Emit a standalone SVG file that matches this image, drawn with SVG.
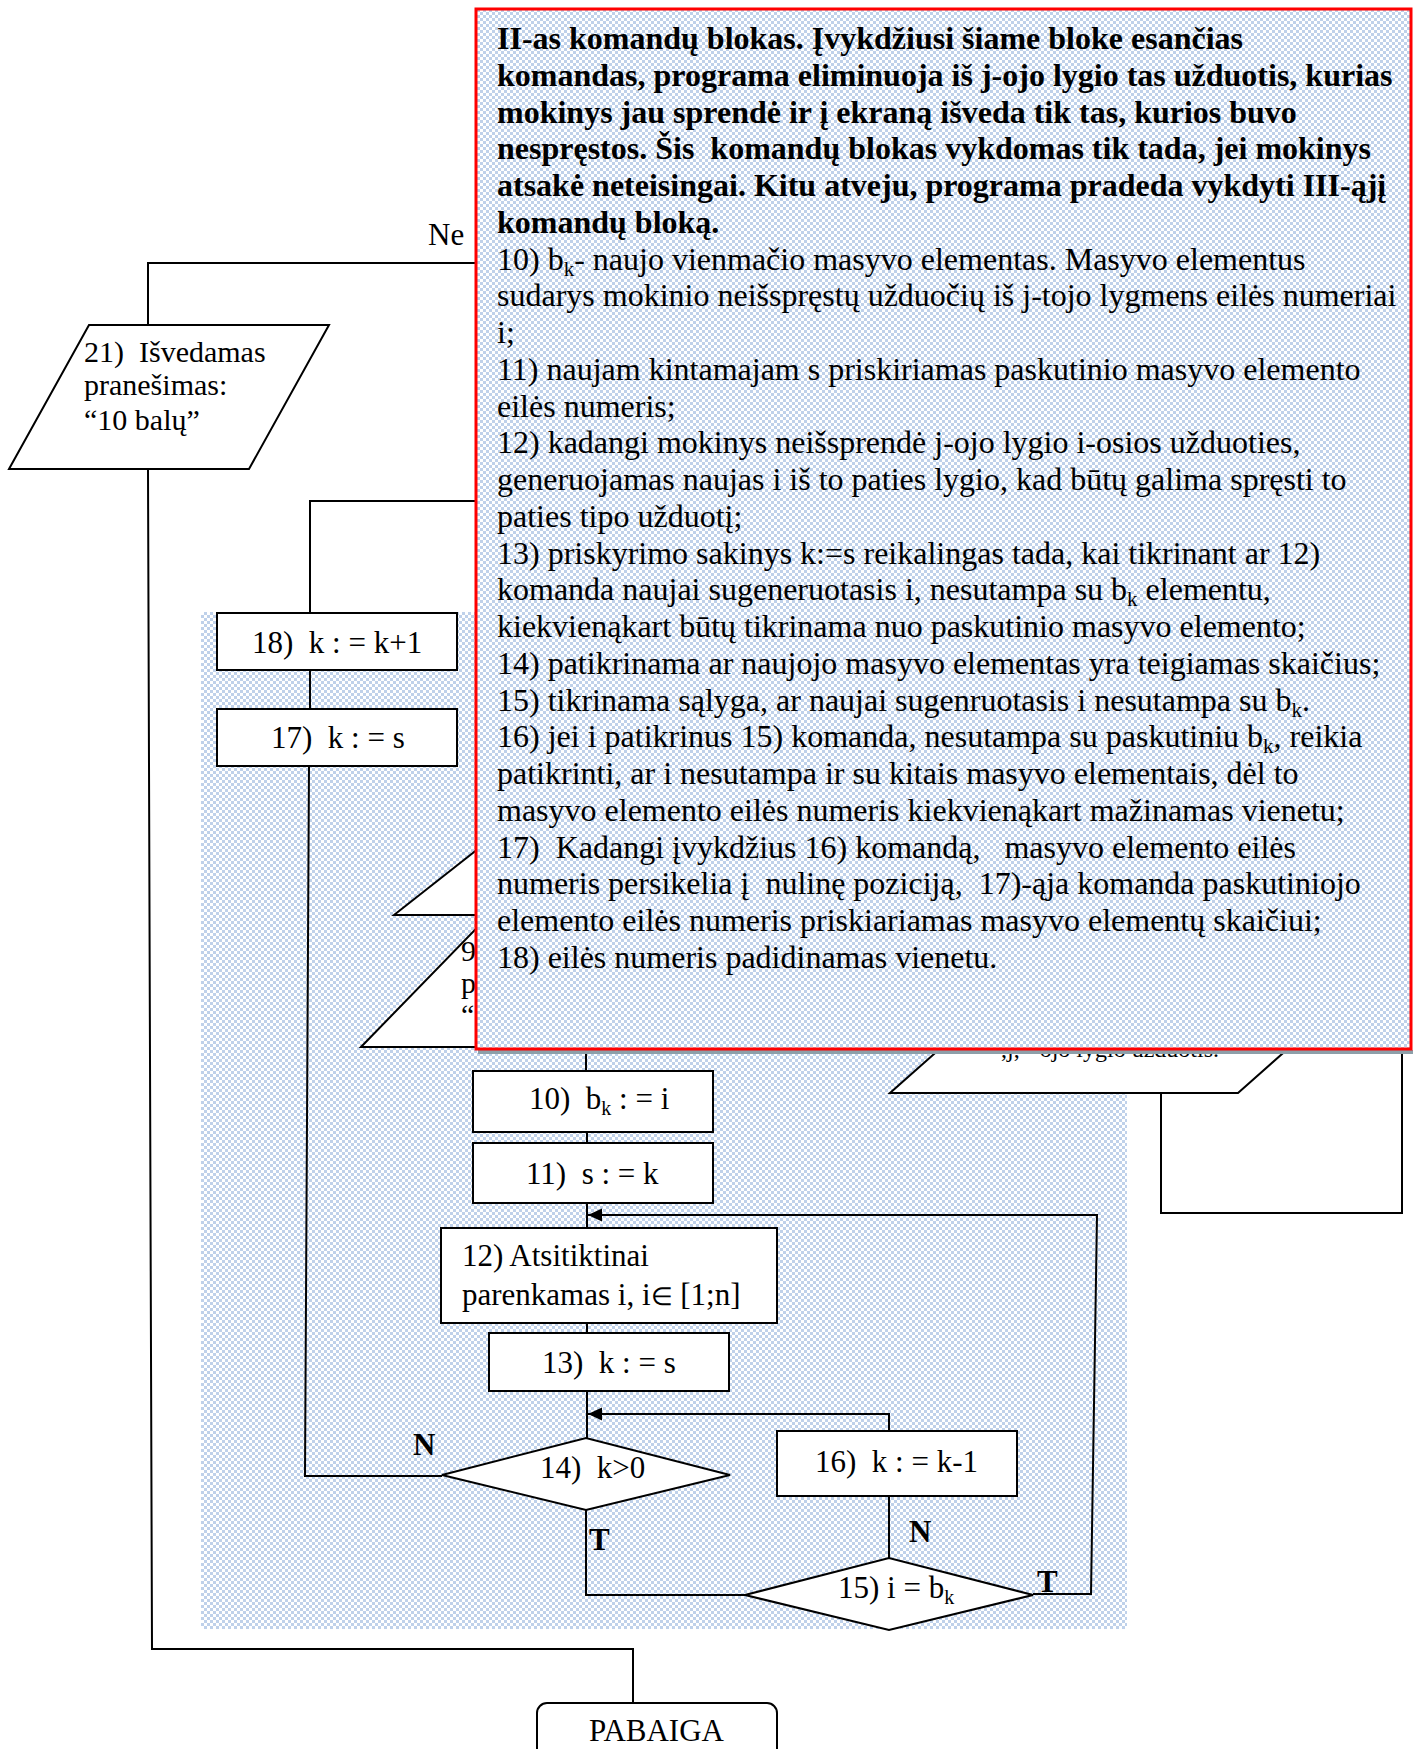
<svg xmlns="http://www.w3.org/2000/svg" width="1418" height="1749" viewBox="0 0 1418 1749">
  <style>
    .ln { fill: none; stroke: #000; stroke-width: 2; }
    .shape { fill: #fff; stroke: #000; stroke-width: 2; }
    .lbl { font-family: 'Liberation Serif', 'Times New Roman', serif; font-size: 31px; fill: #000; }
    .yn { font-family: 'Liberation Serif', 'Times New Roman', serif; font-size: 31px; font-weight: bold; fill: #000; }
    .body { font-family: 'Liberation Serif', 'Times New Roman', serif; font-size: 32px; fill: #000; }
    .head { font-family: 'Liberation Serif', 'Times New Roman', serif; font-size: 32px; font-weight: bold; fill: #000; }
  </style>
  <defs>
    <pattern id="dots" width="6" height="6" patternUnits="userSpaceOnUse">
      <rect width="6" height="6" fill="#ffffff"/>
      <rect width="3" height="3" fill="#bfd1ea"/>
      <rect x="3" y="3" width="3" height="3" fill="#bfd1ea"/>
    </pattern>
    <marker id="arrow" markerUnits="userSpaceOnUse" markerWidth="15" markerHeight="14" refX="14" refY="6.5" orient="auto">
      <path d="M0,0 L14,6.5 L0,13 Z" fill="#000"/>
    </marker>
  </defs>

  <rect width="1418" height="1749" fill="#fff"/>

  <!-- dotted background of the command block -->
  <rect id="block-shade" x="201" y="612" width="926" height="1017" fill="url(#dots)"/>

  <!-- connectors -->
  <g id="connectors">
    <path class="ln" d="M476,263 H148 V325"/>
    <path class="ln" d="M148,469 L152,1649 H633 V1703"/>
    <path class="ln" d="M476,501 H310 V613"/>
    <path class="ln" d="M310,670 V709"/>
    <path class="ln" d="M309,766 L305,1476 H442"/>
    <path class="ln" d="M586,1049 V1071"/>
    <path class="ln" d="M587,1132 V1143"/>
    <path class="ln" d="M587,1203 V1228"/>
    <path class="ln" d="M587,1323 V1333"/>
    <path class="ln" d="M587,1391 V1438"/>
    <path class="ln" d="M1033,1594 H1091 L1097,1215 H588" marker-end="url(#arrow)"/>
    <path class="ln" d="M889,1431 V1414 H588" marker-end="url(#arrow)"/>
    <path class="ln" d="M889,1496 V1558"/>
    <path class="ln" d="M586,1510 V1595 H745"/>
    <text class="lbl" x="428" y="245">Ne</text>
    <text class="yn" x="413" y="1455">N</text>
    <text class="yn" x="589" y="1550">T</text>
    <text class="yn" x="909" y="1542">N</text>
    <text class="yn" x="1037" y="1592">T</text>
  </g>

  <!-- 21) output message -->
  <g id="node-21">
    <polygon class="shape" points="89,325 329,325 249,469 9,469"/>
    <text class="lbl" style="font-size:30px" x="84" y="362">21)&#160; Išvedamas</text>
    <text class="lbl" style="font-size:30px" x="84" y="395">pranešimas:</text>
    <text class="lbl" style="font-size:30px" x="84" y="430">“10 balų”</text>
  </g>

  <g id="node-18">
    <rect class="shape" x="217" y="613" width="240" height="57"/>
    <text class="lbl" x="252" y="653">18)&#160; k : = k+1</text>
  </g>

  <g id="node-17">
    <rect class="shape" x="217" y="709" width="240" height="57"/>
    <text class="lbl" x="271" y="748">17)&#160; k : = s</text>
  </g>

  <!-- output shapes partly covered by the note -->
  <g id="node-io-a">
    <polygon class="shape" points="394,915 530,808 1000,808 864,915"/>
  </g>

  <g id="node-9">
    <polygon class="shape" points="361,1047 504,900 1000,900 857,1047"/>
    <text class="lbl" style="font-size:30px" x="461" y="961">9</text>
    <text class="lbl" style="font-size:30px" x="461" y="993">p</text>
    <text class="lbl" style="font-size:30px" x="461" y="1025">“</text>
  </g>

  <g id="node-right-box">
    <rect class="shape" x="1161" y="1010" width="241" height="203"/>
  </g>

  <g id="node-io-b">
    <polygon class="shape" points="890,1093 1238,1093 1343,1000 995,1000"/>
    <text class="lbl" style="font-size:24px" x="1001" y="1057">,j,&#160; -ojo lygio užduotis.</text>
  </g>

  <g id="node-10">
    <rect class="shape" x="473" y="1071" width="240" height="61"/>
    <text class="lbl" x="529" y="1109">10)&#160; b<tspan font-size="20" dy="6">k</tspan><tspan dy="-6"> : = i</tspan></text>
  </g>

  <g id="node-11">
    <rect class="shape" x="473" y="1143" width="240" height="60"/>
    <text class="lbl" x="526" y="1184">11)&#160; s : = k</text>
  </g>

  <g id="node-12">
    <rect class="shape" x="441" y="1228" width="336" height="95"/>
    <text class="lbl" x="462" y="1266">12) Atsitiktinai</text>
    <text class="lbl" x="462" y="1305">parenkamas i, i<tspan font-size="25">∈</tspan> [1;n]</text>
  </g>

  <g id="node-13">
    <rect class="shape" x="489" y="1333" width="240" height="58"/>
    <text class="lbl" x="542" y="1373">13)&#160; k : = s</text>
  </g>

  <g id="node-14">
    <polygon class="shape" points="442,1475 586,1438 730,1475 586,1510"/>
    <text class="lbl" x="540" y="1478">14)&#160; k&gt;0</text>
  </g>

  <g id="node-16">
    <rect class="shape" x="777" y="1431" width="240" height="65"/>
    <text class="lbl" x="815" y="1472">16)&#160; k : = k-1</text>
  </g>

  <g id="node-15">
    <polygon class="shape" points="745,1595 889,1558 1033,1595 889,1630"/>
    <text class="lbl" x="838" y="1598">15) i = b<tspan font-size="20" dy="6">k</tspan></text>
  </g>

  <g id="node-end">
    <rect class="shape" x="537" y="1703" width="240" height="70" rx="10" ry="10"/>
    <text class="lbl" x="589" y="1741">PABAIGA</text>
  </g>

  <!-- explanatory note for command block II -->
  <g id="note">
    <rect x="478" y="1050" width="935" height="4" fill="#8d9fa9"/>
    <rect x="476" y="9" width="935" height="1040" fill="url(#dots)" stroke="#ff0000" stroke-width="3"/>
    <text class="head" x="497" y="49">II-as komandų blokas. Įvykdžiusi šiame bloke esančias</text>
    <text class="head" x="497" y="85.75">komandas, programa eliminuoja iš j-ojo lygio tas užduotis, kurias</text>
    <text class="head" x="497" y="122.5">mokinys jau sprendė ir į ekraną išveda tik tas, kurios buvo</text>
    <text class="head" x="497" y="159.25">nespręstos. Šis&#160; komandų blokas vykdomas tik tada, jei mokinys</text>
    <text class="head" x="497" y="196">atsakė neteisingai. Kitu atveju, programa pradeda vykdyti III-ąjį</text>
    <text class="head" x="497" y="232.75">komandų bloką.</text>
    <text class="body" x="497" y="269.5">10) b<tspan font-size="21" dy="6">k</tspan><tspan dy="-6">- naujo vienmačio masyvo elementas. Masyvo elementus</tspan></text>
    <text class="body" x="497" y="306.25">sudarys mokinio neišspręstų užduočių iš j-tojo lygmens eilės numeriai</text>
    <text class="body" x="497" y="343">i;</text>
    <text class="body" x="497" y="379.75">11) naujam kintamajam s priskiriamas paskutinio masyvo elemento</text>
    <text class="body" x="497" y="416.5">eilės numeris;</text>
    <text class="body" x="497" y="453.25">12) kadangi mokinys neišsprendė j-ojo lygio i-osios užduoties,</text>
    <text class="body" x="497" y="490">generuojamas naujas i iš to paties lygio, kad būtų galima spręsti to</text>
    <text class="body" x="497" y="526.75">paties tipo užduotį;</text>
    <text class="body" x="497" y="563.5">13) priskyrimo sakinys k:=s reikalingas tada, kai tikrinant ar 12)</text>
    <text class="body" x="497" y="600.25">komanda naujai sugeneruotasis i, nesutampa su b<tspan font-size="21" dy="6">k</tspan><tspan dy="-6"> elementu,</tspan></text>
    <text class="body" x="497" y="637">kiekvienąkart būtų tikrinama nuo paskutinio masyvo elemento;</text>
    <text class="body" x="497" y="673.75">14) patikrinama ar naujojo masyvo elementas yra teigiamas skaičius;</text>
    <text class="body" x="497" y="710.5">15) tikrinama sąlyga, ar naujai sugenruotasis i nesutampa su b<tspan font-size="21" dy="6">k</tspan><tspan dy="-6">.</tspan></text>
    <text class="body" x="497" y="747.25">16) jei i patikrinus 15) komanda, nesutampa su paskutiniu b<tspan font-size="21" dy="6">k</tspan><tspan dy="-6">, reikia</tspan></text>
    <text class="body" x="497" y="784">patikrinti, ar i nesutampa ir su kitais masyvo elementais, dėl to</text>
    <text class="body" x="497" y="820.75">masyvo elemento eilės numeris kiekvienąkart mažinamas vienetu;</text>
    <text class="body" x="497" y="857.5">17)&#160; Kadangi įvykdžius 16) komandą,&#160;&#160; masyvo elemento eilės</text>
    <text class="body" x="497" y="894.25">numeris persikelia į&#160; nulinę poziciją,&#160; 17)-ąja komanda paskutiniojo</text>
    <text class="body" x="497" y="931">elemento eilės numeris priskiariamas masyvo elementų skaičiui;</text>
    <text class="body" x="497" y="967.75">18) eilės numeris padidinamas vienetu.</text>
  </g>
</svg>
